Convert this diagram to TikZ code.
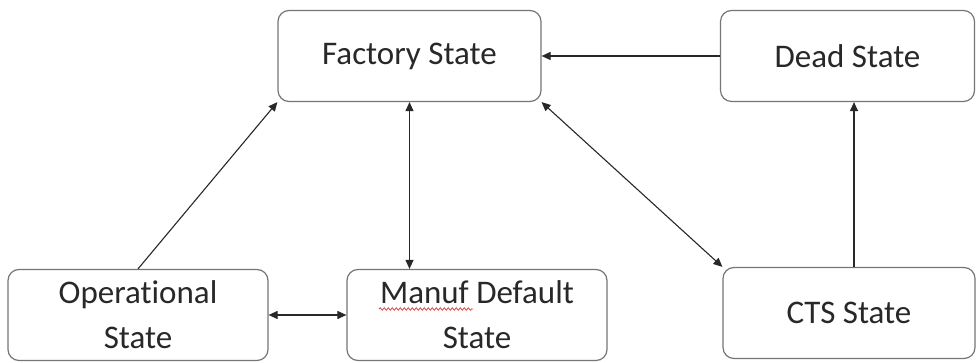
\documentclass[tikz,border=0pt]{standalone}
\usepackage{fontspec}
\setmainfont[Ligatures={NoCommon}]{Carlito}
\usetikzlibrary{arrows.meta,decorations.pathmorphing}
\definecolor{stateBorder}{RGB}{118,118,118}
\definecolor{stateText}{RGB}{40,40,40}
\definecolor{stateArrow}{RGB}{40,40,40}
\definecolor{stateSpell}{RGB}{225,70,70}
\begin{document}
\begin{tikzpicture}[x=1pt,y=1pt,
      state/.style={draw=stateBorder, line width=1.2pt, rounded corners=11pt,
        minimum height=91pt, align=center, text=stateText, inner sep=0pt,
        font=\fontsize{33}{45}\selectfont},
      link/.style={draw=stateArrow, line width=1.1pt,
        -{Triangle[length=9pt,width=8pt]}},
      twoway/.style={link, {Triangle[length=9pt,width=8pt]}-{Triangle[length=9pt,width=8pt]}},
      spell/.style={draw=stateSpell, line width=.8pt, decorate,
        decoration={snake, amplitude=1.2pt, segment length=4pt}}]
      \useasboundingbox (0,0) rectangle (976,363);
      \fill[white] (0,0) rectangle (976,363);

      \node[state, minimum width=263pt] (factory) at (409.5,307) {Factory State};
      \node[state, minimum width=254pt] (dead) at (847.5,307) {Dead State};
      \node[state, minimum width=260pt] (oper) at (138,48) {Operational\\State};
      \node[state, minimum width=260pt] (manuf) at (477,48) {Manuf Default\\State};
      \node[state, minimum width=252pt] (cts) at (849,50) {CTS State};
      \draw[spell] (379,54) -- (473,54);

      \draw[link] (oper.north) -- (factory.south west);
      \draw[twoway] (factory.south) -- (factory.south |- manuf.north);
      \draw[twoway] (factory.south east) -- (cts.north west);
      \draw[link] (dead.west) -- (factory.east);
      \draw[link] ([xshift=5pt]cts.north) -- ([xshift=5pt]cts.north |- dead.south);
      \draw[twoway] (oper.east) -- (manuf.west);
    \end{tikzpicture}
\end{document}
